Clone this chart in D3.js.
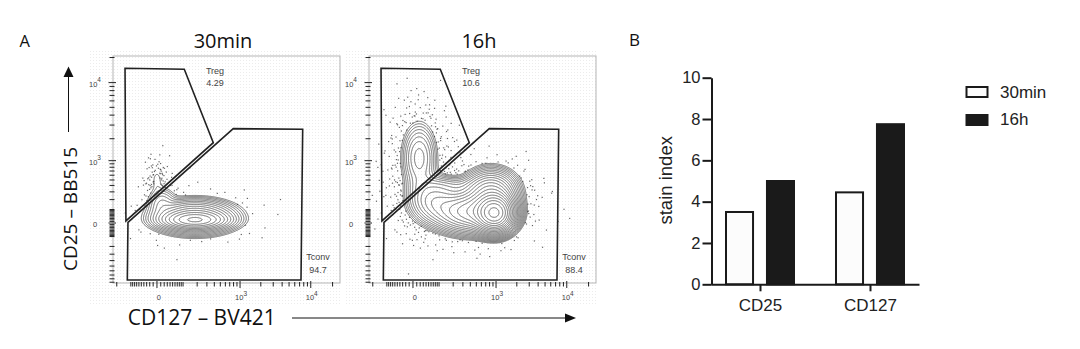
<!DOCTYPE html>
<html><head><meta charset="utf-8">
<script src="https://cdn.jsdelivr.net/npm/d3@7"></script>
<style>body{margin:0;background:#fff} svg{display:block}</style>
</head><body><svg id="c" width="1080" height="349"></svg>
<script>
// ---------------- Panel B data ----------------
const markers = ["CD25", "CD127"];
const timepoints = ["30min", "16h"];
const stain30min = [3.5, 4.45];
const stain16h = [5.0, 7.75];
const stainTicks = [0, 2, 4, 6, 8, 10];

// ---------------- Panel A data ----------------
const plotTitles = ["30min", "16h"];
const tregPct = ["4.29", "10.6"];
const tconvPct = ["94.7", "88.4"];
const cd127Domain = [-235, 25320];
const cd25Domain = [-924, 20860];
const majorTicks = [0, 1000, 10000];
const majorLabels = [["0", ""], ["10", "3"], ["10", "4"]];
const minorTicks = [-200,-100,-90,-80,-70,-60,-50,-40,-30,-20,-10,10,20,30,40,50,60,70,80,90,100,
  200,300,400,500,600,700,800,900,2000,3000,4000,5000,6000,7000,8000,9000,20000];
const minorTicksY = [-900,-800,-700,-600,-500,-400,-300,-200,-100,-90,-80,-70,-60,-50,-40,-30,-20,-10,
  10,20,30,40,50,60,70,80,90,100,200,300,400,500,600,700,800,900,2000,3000,4000,5000,6000,7000,8000,9000,20000];
// gates: [CD127, CD25]
const tregGate = [[-136, 14870], [107, 14470], [385, 1772], [-130, 13]];
const tconvGate = [[-117, 4], [792, 2700], [7730, 2650], [7325, -835], [-121, -835]];
// populations: [CD127 centre, CD25 centre, sd CD127 (decades), sd CD25 (decades), weight, tail]
const pop30min = [
  [181, 19, 0.21, 0.052, 1.0, 0.0],
  [181, 40, 0.255, 0.095, 0.5, 0.2],
  [13, 163, 0.10, 0.10, 0.05, 0.25],
  [0, 499, 0.05, 0.09, 0.01, 0.6]
];
const pop16h = [
  [964, 68, 0.14, 0.125, 1.0, 0.15],
  [410, 78, 0.28, 0.14, 0.3, 0.3],
  [74, 195, 0.2, 0.155, 0.1, 0.3],
  [17, 1092, 0.14, 0.25, 0.07, 0.35],
  [181, 407, 0.25, 0.07, 0.02, 0.2],
  [841, 298, 0.2, 0.154, 0.2, 0.2]
];
const populations = [pop30min, pop16h];

const svg = d3.select("#c");
const defs = svg.append("defs");
defs.append("pattern").attr("id", "dots").attr("width", 3).attr("height", 3)
  .attr("patternUnits", "userSpaceOnUse")
  .append("rect").attr("width", 1).attr("height", 1).attr("fill", "#ececec");

const FX = 113, FY = 56, FW = 227, FH = 227;
const x = d3.scaleSymlog().constant(78).domain(cd127Domain).range([FX, FX + FW]);
const y = d3.scaleSymlog().constant(225).domain(cd25Domain).range([FY + FH, FY]);
const decX = x(1e4) - x(1e3), decY = y(1e3) - y(1e4);

function comps(pops, widen) {
  return pops.map(p => ({cx: x(p[0]), cy: y(p[1]), sx: p[2] * decX * widen, sy: p[3] * decY * widen, w: p[4], t: p[5]}));
}
function dens(cs, px, py, key) {
  let s = 0;
  for (const c of cs) {
    const a = (px - c.cx) / c.sx, b = (py - c.cy) / c.sy;
    s += c[key] * Math.exp(-0.5 * (a * a + b * b));
  }
  return s;
}
function halton(i, b) { let f = 1, r = 0; while (i > 0) { f /= b; r += f * (i % b); i = Math.floor(i / b); } return r; }

const settings = [{n: 14, t0: 0.005, N: 16000, g: 1.0, wd: 1.8}, {n: 20, t0: 0.01, N: 20000, g: 1.0, wd: 1.6}];

const lineCol = "#222";
plotTitles.forEach((title, pi) => {
  const off = pi * 256;
  const st = settings[pi];
  const g = svg.append("g").attr("transform", `translate(${off},0)`);
  g.append("rect").attr("x", 88).attr("y", 50).attr("width", 253).attr("height", 254).attr("fill", "url(#dots)");
  g.append("rect").attr("x", FX).attr("y", FY).attr("width", FW).attr("height", FH)
    .attr("fill", "none").attr("stroke", "#b5b5b5").attr("stroke-width", 1);

  // density + contours
  const cs = comps(populations[pi], 1);
  const cb = comps(populations[pi], st.wd);
  const vals = new Float64Array(FW * FH);
  for (let j = 0; j < FH; j++) for (let i = 0; i < FW; i++) vals[i + j * FW] = dens(cs, FX + i + 0.5, FY + j + 0.5, "w");
  const maxV = d3.max(vals);
  const levels = d3.range(st.n).map(k => maxV * st.t0 * Math.pow(0.9 / st.t0, k / (st.n - 1)));
  const contours = d3.contours().size([FW, FH]).thresholds(levels)(vals);
  const path = d3.geoPath(d3.geoIdentity().translate([FX, FY]));
  g.append("g").selectAll("path").data(contours).join("path")
    .attr("d", path).attr("fill", "none").attr("stroke", "#505050").attr("stroke-width", 0.8);

  // outlier events (deterministic stipple of the tail density)
  const pts = [];
  for (let k = 1; k <= st.N; k++) {
    const px = FX + 2 + halton(k, 2) * (FW - 4), py = FY + 2 + halton(k, 3) * (FH - 4);
    if (dens(cs, px, py, "w") >= levels[0]) continue;
    if (halton(k, 5) < st.g * dens(cb, px, py, "t")) pts.push([px, py]);
  }
  g.append("g").selectAll("rect").data(pts).join("rect")
    .attr("x", d => d[0] - 0.6).attr("y", d => d[1] - 0.6).attr("width", 1.2).attr("height", 1.2)
    .attr("fill", "#333").attr("fill-opacity", 0.75);

  // gates
  const line = d3.line().x(d => x(d[0])).y(d => y(d[1]));
  [tregGate, tconvGate].forEach(gt => {
    g.append("path").attr("d", line(gt) + "Z").attr("fill", "none").attr("stroke", lineCol).attr("stroke-width", 1.6);
  });

  // gate labels
  const lab = g.append("g").attr("font-family", "Liberation Sans, Arial, sans-serif").attr("font-size", 9)
    .attr("fill", "#444").attr("text-anchor", "middle");
  lab.append("text").attr("x", 215).attr("y", 73.5).text("Treg");
  lab.append("text").attr("x", 215).attr("y", 86).text(tregPct[pi]);
  lab.append("text").attr("x", 318).attr("y", 259.5).text("Tconv");
  lab.append("text").attr("x", 318).attr("y", 273).text(tconvPct[pi]);

  // axes ticks
  const ax = g.append("g").attr("stroke", "#222").attr("stroke-width", 1);
  minorTicks.forEach(v => ax.append("line").attr("x1", x(v)).attr("x2", x(v)).attr("y1", 282).attr("y2", 286.5));
  majorTicks.forEach(v => ax.append("line").attr("x1", x(v)).attr("x2", x(v)).attr("y1", 281).attr("y2", 288));
  minorTicksY.forEach(v => ax.append("line").attr("x1", 109.5).attr("x2", 114.5).attr("y1", y(v)).attr("y2", y(v)));
  majorTicks.forEach(v => ax.append("line").attr("x1", 108.5).attr("x2", 116).attr("y1", y(v)).attr("y2", y(v)));

  const tl = g.append("g").attr("font-family", "Liberation Sans, Arial, sans-serif").attr("fill", "#444").attr("font-size", 7.5);
  majorTicks.forEach((v, k) => {
    const t = tl.append("text").attr("x", x(v) + (k ? 1 : 2)).attr("y", 300).attr("text-anchor", "middle");
    t.append("tspan").text(majorLabels[k][0]);
    if (majorLabels[k][1]) t.append("tspan").attr("dy", -4.5).attr("font-size", 6.5).text(majorLabels[k][1]);
    const t2 = tl.append("text").attr("x", 95).attr("y", y(v) + 4).attr("text-anchor", "middle");
    t2.append("tspan").text(majorLabels[k][0]);
    if (majorLabels[k][1]) t2.append("tspan").attr("dy", -4.5).attr("font-size", 6.5).text(majorLabels[k][1]);
  });

  // title
  g.append("text").attr("x", 223).attr("y", 48.3).attr("text-anchor", "middle")
    .attr("font-family", "Open Sans, sans-serif").attr("font-size", 20).attr("fill", "#111").text(title);
});

// Panel A labels
const fA = "Open Sans, sans-serif";
svg.append("text").attr("x", 19.5).attr("y", 46.5).attr("font-family", fA).attr("font-size", 16.5).attr("fill", "#111").text("A");
svg.append("text").attr("transform", "translate(76.5,209) rotate(-90)").attr("text-anchor", "middle")
  .attr("font-family", fA).attr("font-size", 19).attr("fill", "#111").text("CD25 – BB515");
svg.append("text").attr("x", 201.7).attr("y", 325).attr("text-anchor", "middle")
  .attr("font-family", fA).attr("font-size", 21).attr("fill", "#111").text("CD127 – BV421");
// arrows
svg.append("line").attr("x1", 68.5).attr("x2", 68.5).attr("y1", 132).attr("y2", 74).attr("stroke", "#111").attr("stroke-width", 1);
svg.append("path").attr("d", "M68.5,66.5 L73.5,77 L63.5,77 Z").attr("fill", "#111");
svg.append("line").attr("x1", 292).attr("x2", 568).attr("y1", 318).attr("y2", 318).attr("stroke", "#111").attr("stroke-width", 1);
svg.append("path").attr("d", "M576,318 L565,313.5 L565,322.5 Z").attr("fill", "#111");

// ---------------- Panel B ----------------
const fB = "Liberation Sans, Arial, sans-serif";
const bx = d3.scalePoint().domain(markers).range([711, 919]).padding(0.4455);
const bsub = d3.scaleBand().domain(timepoints).range([-34, 34]).paddingInner(0.34);
const by = d3.scaleLinear().domain([0, 10]).range([284.3, 77.7]);
const seriesVals = {"30min": stain30min, "16h": stain16h};
const fills = {"30min": "#fcfcfc", "16h": "#1a1a1a"};

svg.append("text").attr("x", 629).attr("y", 46).attr("font-family", fA).attr("font-size", 17).attr("fill", "#111").text("B");

const gB = svg.append("g");
markers.forEach((m, i) => {
  timepoints.forEach(t => {
    const v = seriesVals[t][i];
    gB.append("rect").attr("x", bx(m) + bsub(t)).attr("y", by(v)).attr("width", bsub.bandwidth())
      .attr("height", by(0) - by(v)).attr("fill", fills[t]).attr("stroke", "#1a1a1a").attr("stroke-width", 2);
  });
});
const yAx = gB.append("g").attr("transform", "translate(711.5,0)")
  .call(d3.axisLeft(by).tickValues(stainTicks).tickSize(9).tickSizeOuter(0).tickPadding(2));
const xAx = gB.append("g").attr("transform", "translate(0,284.3)")
  .call(d3.axisBottom(bx).tickSize(7).tickSizeOuter(0).tickPadding(7.5));
[yAx, xAx].forEach(a => {
  a.selectAll("path,line").attr("stroke", "#1a1a1a").attr("stroke-width", 2);
  a.selectAll("text").attr("font-family", fB).attr("font-size", 16.5).attr("fill", "#222");
});
xAx.selectAll("text").attr("font-size", 17);
svg.append("text").attr("transform", "translate(672,180.3) rotate(-90)").attr("text-anchor", "middle")
  .attr("font-family", fB).attr("font-size", 18.5).attr("fill", "#222").text("stain index");

// legend
timepoints.forEach((t, i) => {
  svg.append("rect").attr("x", 966.5).attr("y", 87 + i * 28).attr("width", 21).attr("height", 10)
    .attr("fill", fills[t]).attr("stroke", "#1a1a1a").attr("stroke-width", 2);
  svg.append("text").attr("x", 1000).attr("y", 97.7 + i * 27.6).attr("font-family", fB).attr("font-size", 17)
    .attr("fill", "#222").text(t);
});
</script>
</body></html>
